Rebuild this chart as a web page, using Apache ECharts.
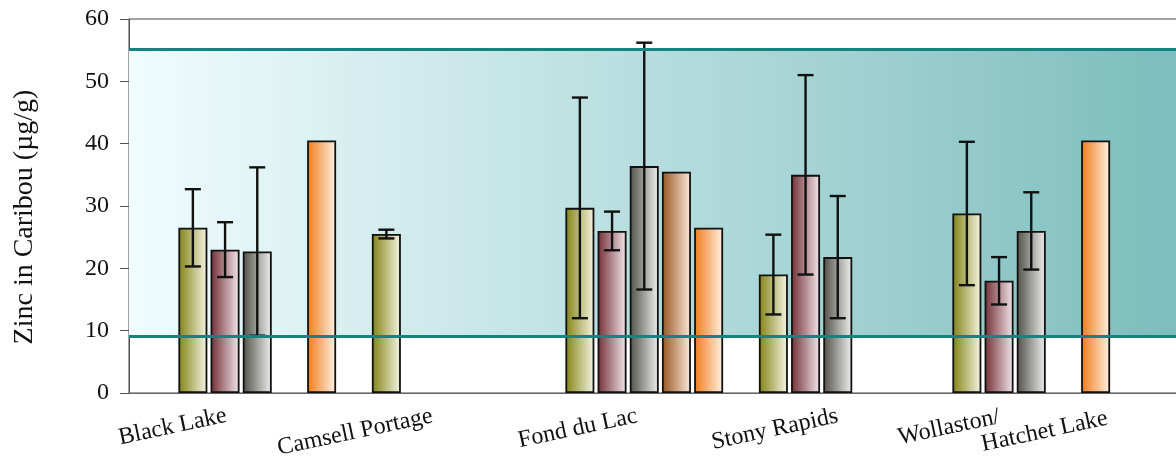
<!DOCTYPE html>
<html>
<head>
<meta charset="utf-8">
<script src="https://cdn.jsdelivr.net/npm/echarts@6/dist/echarts.min.js"></script>
<style>
  html, body { margin: 0; padding: 0; background: #ffffff; }
  #chart { width: 1176px; height: 461px; }
</style>
</head>
<body>
<div id="chart"></div>
<script>
// Zinc concentrations in caribou by community (mean and ± spread)
const categories = ['Black Lake', 'Camsell Portage', 'Fond du Lac', 'Stony Rapids', 'Wollaston/\nHatchet Lake'];
const yTicks = [0, 10, 20, 30, 40, 50, 60];
const seriesNames = ['Set 1', 'Set 2', 'Set 3', 'Set 4', 'Set 5'];

const means1 = [26.5, 25.5, 29.7, 19.0, 28.8];
const errs1  = [6.2, 0.7, 17.7, 6.4, 11.5];
const means2 = [23.0, null, 26.0, 35.0, 18.0];
const errs2  = [4.4, null, 3.1, 16.0, 3.8];
const means3 = [22.7, null, 36.4, 21.8, 26.0];
const errs3  = [13.5, null, 19.8, 9.8, 6.2];
const means4 = [null, null, 35.5, null, null];
const means5 = [40.5, null, 26.5, null, 40.5];

// reference range shown as a shaded band
const bandLow = 9.1;
const bandHigh = 55.2;

const FONT = '"Liberation Serif", "Times New Roman", serif';
const BAR_W = 29;
const GAP_PCT = 0.11;
const STEP = BAR_W * (1 + GAP_PCT);

function grad(dark, light) {
  return {
    type: 'linear', x: 0, y: 0, x2: 1, y2: 0,
    colorStops: [{ offset: 0, color: dark }, { offset: 1, color: light }]
  };
}
const fills = [
  grad('#828214', '#f6f6e6'),
  grad('#722e34', '#f3e8ee'),
  grad('#505048', '#f0f0f0'),
  grad('#985624', '#fde9d9'),
  grad('#f07a18', '#fff2e4')
];
const allMeans = [means1, means2, means3, means4, means5];
const allErrs = [errs1, errs2, errs3, null, null];

function errorData(means, errs) {
  const out = [];
  means.forEach((m, i) => {
    if (m != null && errs[i] != null) out.push([i, m - errs[i], m + errs[i]]);
  });
  return out;
}

function errorRenderer(slot) {
  return function (params, api) {
    const cat = api.value(0);
    const lo = api.coord([cat, api.value(1)]);
    const hi = api.coord([cat, api.value(2)]);
    const x = lo[0] + (slot - 2) * STEP;
    const cap = 8;
    const st = { stroke: '#111111', lineWidth: 2.4 };
    return {
      type: 'group',
      children: [
        { type: 'line', shape: { x1: x, y1: hi[1], x2: x, y2: lo[1] }, style: st },
        { type: 'line', shape: { x1: x - cap, y1: hi[1], x2: x + cap, y2: hi[1] }, style: st },
        { type: 'line', shape: { x1: x - cap, y1: lo[1], x2: x + cap, y2: lo[1] }, style: st }
      ]
    };
  };
}

// category label placement along the axis
const labelStyles = [
  { padding: [0, 30, 14, 0] },
  { padding: [0, 18, 8, 0] },
  { padding: [0, 7, 3, 0] },
  {},
  { align: 'center', padding: [12, 0, 0, 0] }
];
const xCategoryData = categories.map((c, i) => ({ value: c, textStyle: labelStyles[i] }));

const series = [
  {
    name: 'band',
    type: 'line',
    xAxisIndex: 0, yAxisIndex: 0,
    data: [],
    silent: true,
    z: 1,
    markArea: {
      silent: true,
      itemStyle: { color: grad('#f0fcfe', '#7dbdbd') },
      data: [[{ yAxis: bandLow }, { yAxis: bandHigh }]]
    },
    markLine: {
      silent: true,
      symbol: 'none',
      label: { show: false },
      lineStyle: { color: '#16847e', width: 3, type: 'solid' },
      data: [{ yAxis: bandLow }, { yAxis: bandHigh }]
    }
  }
];

allMeans.forEach((m, k) => {
  series.push({
    name: seriesNames[k],
    type: 'bar',
    xAxisIndex: 1, yAxisIndex: 1,
    data: m,
    barWidth: BAR_W,
    barGap: (GAP_PCT * 100) + '%',
    z: 3,
    itemStyle: { color: fills[k], borderColor: '#111111', borderWidth: 1.8 }
  });
});
allErrs.forEach((e, k) => {
  if (!e) return;
  series.push({
    name: seriesNames[k] + ' spread',
    type: 'custom',
    xAxisIndex: 1, yAxisIndex: 1,
    data: errorData(allMeans[k], e),
    renderItem: errorRenderer(k),
    z: 4
  });
});

const chart = echarts.init(document.getElementById('chart'), null, { renderer: 'canvas' });
chart.setOption({
  animation: false,
  backgroundColor: '#ffffff',
  grid: [
    { left: 129, right: -2, top: 19, bottom: 68, outerBoundsMode: 'none', containLabel: false,
      show: true, borderColor: '#444444', borderWidth: 1, backgroundColor: 'transparent' },
    { left: 160.5, width: 967.5, top: 19, bottom: 68, outerBoundsMode: 'none', containLabel: false }
  ],
  xAxis: [
    {
      gridIndex: 0, type: 'value', min: 0, max: 1,
      axisLine: { show: true, lineStyle: { color: '#666666', width: 1 } },
      axisTick: { show: false }, axisLabel: { show: false }, splitLine: { show: false }
    },
    {
      gridIndex: 1, type: 'category', data: xCategoryData,
      axisLine: { show: false }, axisTick: { show: false },
      axisLabel: {
        interval: 0, rotate: 12, margin: 23,
        fontFamily: FONT, fontSize: 24, color: '#111111', lineHeight: 24,
        formatter: function (v) {
          if (v.indexOf('\n') < 0) return v;
          const parts = v.split('\n');
          return '{w|' + parts[0] + '}\n{h|' + parts[1] + '}';
        },
        rich: {
          w: { width: 269, align: 'left', fontFamily: FONT, fontSize: 24, color: '#111111', lineHeight: 24 },
          h: { width: 189, padding: [0, 0, 0, 80], align: 'left', fontFamily: FONT, fontSize: 24, color: '#111111', lineHeight: 24 }
        }
      }
    }
  ],
  yAxis: [
    {
      gridIndex: 0, type: 'value', min: yTicks[0], max: yTicks[yTicks.length - 1], interval: 10,
      name: 'Zinc in Caribou (µg/g)', nameLocation: 'middle', nameRotate: 90, nameGap: 90,
      nameTextStyle: { fontFamily: FONT, fontSize: 28, color: '#111111', padding: [0, 22, 0, 0] },
      axisLine: { show: true, lineStyle: { color: '#555555', width: 1 } },
      axisTick: { show: true, inside: false, length: 9, lineStyle: { color: '#555555' } },
      axisLabel: { fontFamily: FONT, fontSize: 24, color: '#111111', margin: 20 },
      splitLine: { show: false }
    },
    {
      gridIndex: 1, type: 'value', min: yTicks[0], max: yTicks[yTicks.length - 1], show: false,
      splitLine: { show: false }
    }
  ],
  series: series
});
</script>
</body>
</html>
